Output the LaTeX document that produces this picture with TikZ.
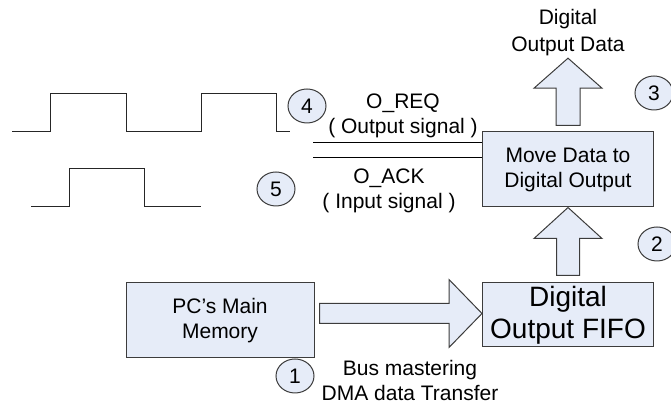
\documentclass[tikz,border=0pt]{standalone}
\usepackage{fontspec}
\setmainfont{Liberation Sans}
\usetikzlibrary{shapes.geometric,calc}
\definecolor{boxfill}{RGB}{230,236,248}
\definecolor{boxline}{RGB}{60,60,60}

\begin{document}
\begin{tikzpicture}[x=0.5pt,y=-0.5pt,font=\fontsize{10.5}{12.5}\selectfont,
	blk/.style={draw=boxline,fill=boxfill,align=center,inner sep=0pt,line width=0.5pt},
	num/.style={ellipse,draw=boxline,fill=boxfill,inner sep=0pt,minimum width=19pt,minimum height=17pt,line width=0.5pt},
	barrow/.style={draw=boxline,fill=boxfill,line width=0.5pt},
	wave/.style={draw=black!85,line width=0.5pt},
	sig/.style={draw=black,line width=0.5pt}]
				\useasboundingbox (0,0) rectangle (671,405);
				
				\node[blk,minimum width=94pt,minimum height=37.5pt] (b_mem) at (220,320.5) {PC’s Main\\Memory};
				\node[blk,minimum width=85.5pt,minimum height=32pt,font=\fontsize{14}{16}\selectfont] (b_fifo) at (568,315) {Digital\\Output FIFO};
				\node[blk,minimum width=85.5pt,minimum height=37.5pt] (b_move) at (568,169.5) {Move Data to\\Digital Output};
				\node[align=center,inner sep=1pt,font=\fontsize{10.5}{13.5}\selectfont] (t_out) at (568,32.5) {Digital\\Output Data};
				
				\coordinate (dma_in) at ($(b_mem.east)+(5,-7)$);
				\coordinate (dma_out) at (b_fifo.west |- dma_in);
				\draw[barrow] ($(dma_in)+(0,-10)$) -- ($(dma_out)+(-33,-10)$) -- ($(dma_out)+(-33,-34)$) -- (dma_out) -- ($(dma_out)+(-33,34)$) -- ($(dma_out)+(-33,10)$) -- ($(dma_in)+(0,10)$) -- cycle;
				
				\draw[barrow] ($(b_fifo.north)+(-11.5,-7)$) -- ($(b_move.south)+(-11.5,31)$) -- ($(b_move.south)+(-34,31)$) -- (b_move.south) -- ($(b_move.south)+(34,31)$) -- ($(b_move.south)+(11.5,31)$) -- ($(b_fifo.north)+(11.5,-7)$) -- cycle;
				
				\draw[barrow] ($(b_move.north)+(-12,-6)$) -- ($(t_out.south)+(-12,30)$) -- ($(t_out.south)+(-34,30)$) -- (t_out.south) -- ($(t_out.south)+(34,30)$) -- ($(t_out.south)+(12,30)$) -- ($(b_move.north)+(12,-6)$) -- cycle;
				
				\coordinate (s_req) at (313,143);
				\coordinate (s_ack) at (313,158);
				\draw[sig] (s_req) -- (s_req -| b_move.west);
				\draw[sig] (s_ack) -- (s_ack -| b_move.west);
				
				\node[align=center] (l_req) at (403,115.5) {O\_REQ\\( Output signal )};
				\node[align=center] (l_ack) at (389,190.5) {O\_ACK\\( Input signal )};
				\node[align=center] (l_dma) at (410,380) {Bus mastering\\DMA data Transfer};
				
				\node[num] (c_1) at (295,376) {1};
				\node[num] (c_2) at (657,244) {2};
				\node[num] (c_3) at (654,93) {3};
				\node[num] (c_4) at (307,106) {4};
				\node[num] (c_5) at (276,189) {5};
				
				\draw[wave] (12,132) -- (50,132) -- (50,94) -- (126,94) -- (126,132) -- (201,132) -- (201,94) -- (276,94) -- (276,132) -- (290,132);
				\draw[wave] (31,207) -- (69,207) -- (69,169) -- (144,169) -- (144,207) -- (201,207);
				
\end{tikzpicture}
\end{document}
